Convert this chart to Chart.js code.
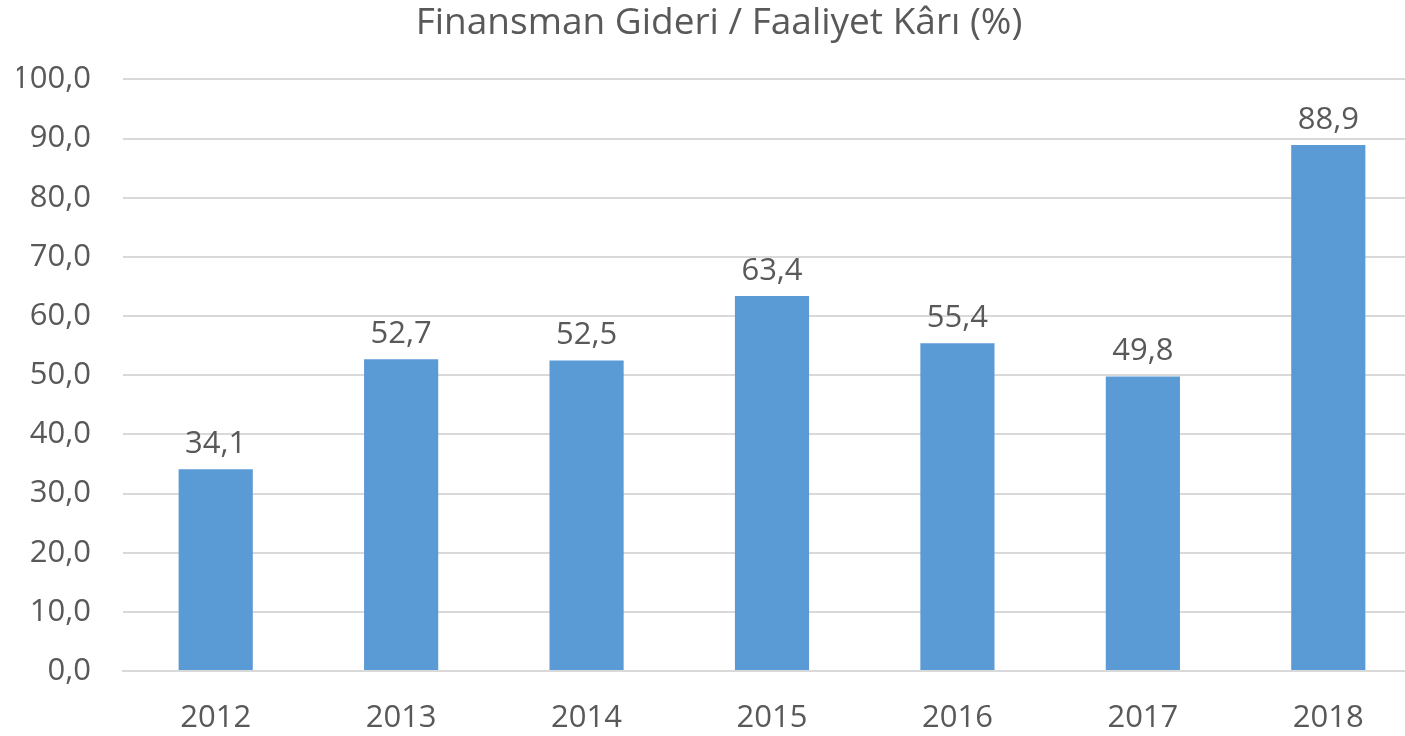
<!DOCTYPE html>
<html>
<head>
<meta charset="utf-8">
<script src="https://cdn.jsdelivr.net/npm/chart.js@4"></script>
<style>
    body { margin: 0; background: #fff; overflow: hidden; }
    #wrap { width: 1421px; height: 736px; }
</style>
</head>
<body>
<div id="wrap"><canvas id="chart" width="1421" height="736"></canvas></div>
<script>
const years = ['2012', '2013', '2014', '2015', '2016', '2017', '2018']
const ratios = [34.1, 52.7, 52.5, 63.4, 55.4, 49.8, 88.9]
const chartTitle = 'Finansman Gideri / Faaliyet Kârı (%)'

const textColor = '#595959'
const fmt = v => Number(v).toFixed(1).replace('.', ',')

// değer etiketleri çubukların üstüne
const valueLabels = {
    id: 'valueLabels',
    afterDatasetsDraw(chart) {
        const c = chart.ctx
        const meta = chart.getDatasetMeta(0)
        c.save()
        c.font = '31px "Open Sans"'
        c.fillStyle = textColor
        c.textAlign = 'center'
        c.textBaseline = 'middle'
        meta.data.forEach((bar, i) => {
            c.fillText(fmt(ratios[i]), bar.x, bar.y - 25)
        })
        c.restore()
    }
}

new Chart(document.querySelector('#chart'), {
    type: 'bar',
    data: {
        labels: years,
        datasets: [{
            data: ratios,
            backgroundColor: '#5B9BD5',
            barPercentage: 0.4,
            categoryPercentage: 1
        }]
    },
    options: {
        responsive: false,
        animation: false,
        layout: { autoPadding: false, padding: { left: 17, right: 0, top: 0, bottom: 0 } },
        plugins: {
            legend: { display: false },
            tooltip: { enabled: false },
            title: {
                display: true,
                text: chartTitle,
                color: textColor,
                font: { family: 'Open Sans', size: 37, weight: 'normal' },
                padding: { top: 1, bottom: 34 }
            }
        },
        scales: {
            x: {
                grid: { display: false },
                border: { display: true, color: '#D9D9D9', width: 2 },
                ticks: {
                    color: textColor,
                    font: { family: 'Open Sans', size: 31 },
                    padding: 21
                },
                afterFit: s => { s.height = 65 }
            },
            y: {
                min: 0,
                max: 100,
                ticks: {
                    stepSize: 10,
                    color: textColor,
                    font: { family: 'Open Sans', size: 31 },
                    padding: 32,
                    callback: v => fmt(v)
                },
                grid: { color: '#D9D9D9', lineWidth: 2, drawTicks: false },
                border: { display: false },
                afterFit: s => { s.width = 106 }
            }
        }
    },
    plugins: [valueLabels]
})
</script>
</body>
</html>
